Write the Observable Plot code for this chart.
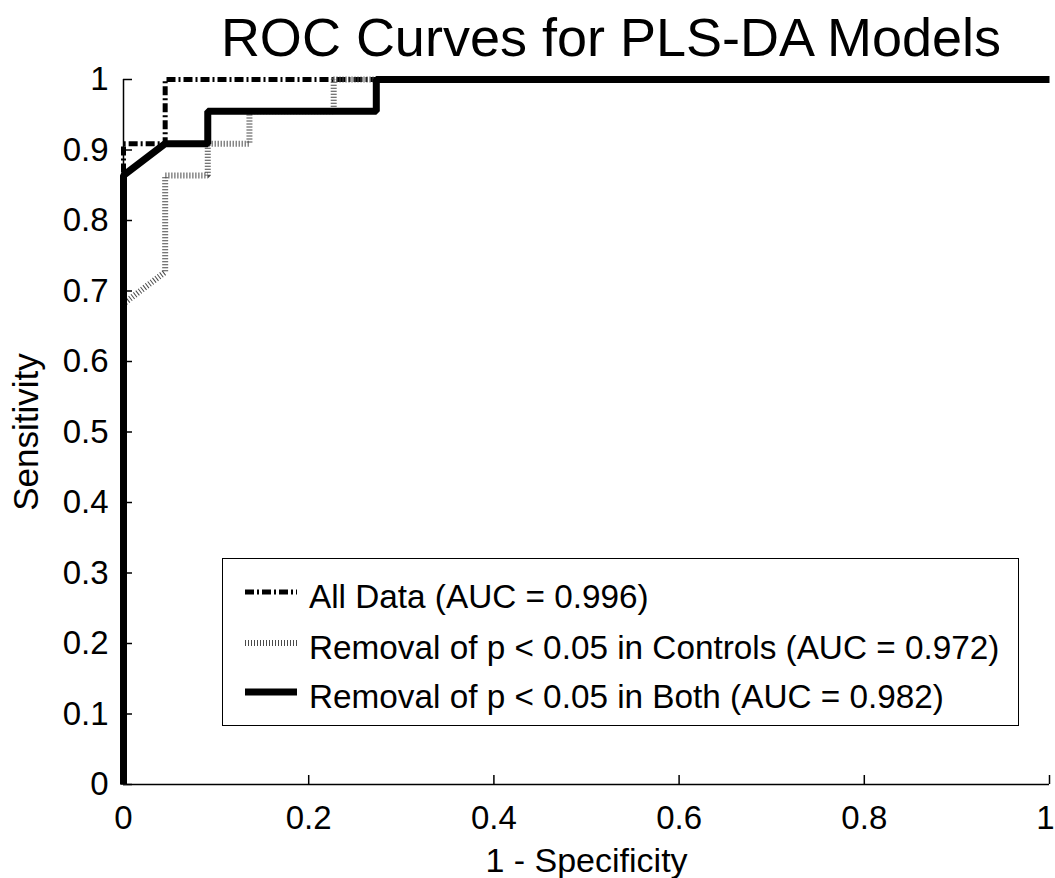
<!DOCTYPE html>
<html><head><meta charset="utf-8">
<script src="https://cdn.jsdelivr.net/npm/d3@7"></script>
<script src="https://cdn.jsdelivr.net/npm/@observablehq/plot@0.6"></script>
<style>
body{margin:0;background:#fff;font-family:"Liberation Sans",Arial,sans-serif;color:#000;}
#wrap{position:relative;width:1055px;height:878px;}
#title{position:absolute;left:167px;right:0;top:10px;text-align:center;font-size:54px;line-height:54px;white-space:nowrap;}
#legend{position:absolute;left:222px;top:558px;width:795px;height:166px;border:1px solid #000;background:#fff;}
.row{position:absolute;left:0;width:100%;height:34px;font-size:33.3px;line-height:34px;white-space:nowrap;}
.row svg{position:absolute;left:22px;top:5px;overflow:visible;}
.row span{position:absolute;left:86px;top:0;}
</style></head><body>
<div id="wrap"><div id="title"></div><div id="legend"></div></div>
<script>
// ---- text ----
const titleText = "ROC Curves for PLS-DA Models";
const xLabel = "1 - Specificity";
const yLabel = "Sensitivity";
const seriesNames = [
  "All Data (AUC = 0.996)",
  "Removal of p < 0.05 in Controls (AUC = 0.972)",
  "Removal of p < 0.05 in Both (AUC = 0.982)"
];
// ---- ticks ----
const xTicks = [0, 0.2, 0.4, 0.6, 0.8, 1];
const xTickLabels = ["0", "0.2", "0.4", "0.6", "0.8", "1"];
const yTicks = [0, 0.1, 0.2, 0.3, 0.4, 0.5, 0.6, 0.7, 0.8, 0.9, 1];
const yTickLabels = ["0", "0.1", "0.2", "0.3", "0.4", "0.5", "0.6", "0.7", "0.8", "0.9", "1"];
// ---- series values (1 - specificity, sensitivity) ----
const allDataFPR = [0, 0, 0.045, 0.045, 1];
const allDataTPR = [0, 0.909, 0.909, 1, 1];
const controlsFPR = [0, 0, 0.045, 0.045, 0.091, 0.091, 0.136, 0.136, 0.227, 0.227, 1];
const controlsTPR = [0, 0.682, 0.727, 0.864, 0.864, 0.909, 0.909, 0.955, 0.955, 1, 1];
const bothFPR = [0, 0, 0.045, 0.091, 0.091, 0.273, 0.273, 1];
const bothTPR = [0, 0.864, 0.909, 0.909, 0.955, 0.955, 1, 1];

// ---- styles ----
const W = 1055, H = 878, mL = 123, mR = 6, mT = 79, mB = 94;
const innerW = W - mL - mR, innerH = H - mT - mB;
const TICK = 9;
const styles = [
  {stroke: "#000", strokeWidth: 5, dash: "9,3,2,3"},
  {stroke: "#4a4a4a", strokeWidth: 6, dash: "1,2"},
  {stroke: "#000", strokeWidth: 7, dash: null}
];
const zip = (xs, ys) => xs.map((x, i) => ({fpr: x, tpr: ys[i]}));
const series = [zip(allDataFPR, allDataTPR), zip(controlsFPR, controlsTPR), zip(bothFPR, bothTPR)];
const fmtX = d => xTickLabels[xTicks.indexOf(d)];

document.getElementById("title").textContent = titleText;

const chart = Plot.plot({
  width: W, height: H,
  marginLeft: mL, marginRight: mR, marginTop: mT, marginBottom: mB,
  style: {fontFamily: "'Liberation Sans', Arial, sans-serif", fontSize: "33px", color: "#000", background: "transparent", overflow: "visible"},
  x: {domain: [0, 1]},
  y: {domain: [0, 1]},
  marks: [
    Plot.axisX({ticks: xTicks.slice(0, -1), tickSize: 0, tickPadding: 21, fontSize: 33, label: null, tickFormat: fmtX}),
    Plot.axisX({ticks: xTicks.slice(-1), tickSize: 0, tickPadding: 21, fontSize: 33, label: null, tickFormat: fmtX, dx: -4}),
    Plot.axisY({ticks: yTicks, tickSize: 0, tickPadding: 15, fontSize: 33, label: null,
      tickFormat: d => yTickLabels[yTicks.indexOf(d)]}),
    Plot.ruleX(xTicks, {x: d => d, y1: 0, y2: TICK / innerH, stroke: "#000", strokeWidth: 1.5}),
    Plot.ruleY(yTicks, {y: d => d, x1: 0, x2: TICK / innerW, stroke: "#000", strokeWidth: 1.5}),
    Plot.ruleX([0], {stroke: "#000", strokeWidth: 1.5}),
    Plot.ruleY([0], {stroke: "#000", strokeWidth: 1.5}),
    ...series.map((s, i) => Plot.line(s, {x: "fpr", y: "tpr",
      stroke: styles[i].stroke, strokeWidth: styles[i].strokeWidth,
      strokeDasharray: styles[i].dash, strokeLinecap: "butt", strokeLinejoin: "miter"})),
    Plot.text([xLabel], {frameAnchor: "bottom", dy: 63, lineAnchor: "top", textAnchor: "middle", fontSize: 34, text: d => d}),
    Plot.text([yLabel], {frameAnchor: "left", dx: -97, rotate: -90, lineAnchor: "middle", textAnchor: "middle", fontSize: 35, text: d => d})
  ]
});
chart.style.position = "absolute";
chart.style.left = "0px";
chart.style.top = "0px";
const wrap = document.getElementById("wrap");
wrap.insertBefore(chart, wrap.firstChild);

// ---- legend ----
const legend = d3.select("#legend");
const rowTops = [21, 72, 121];
seriesNames.forEach((name, i) => {
  const row = legend.append("div").attr("class", "row").style("top", rowTops[i] + "px");
  const svg = row.append("svg").attr("width", 52).attr("height", 14);
  svg.append("line").attr("x1", 0).attr("x2", 52).attr("y1", 7).attr("y2", 7)
    .attr("stroke", styles[i].stroke).attr("stroke-width", styles[i].strokeWidth)
    .attr("stroke-dasharray", styles[i].dash);
  row.append("span").text(name);
});
</script>
</body></html>
